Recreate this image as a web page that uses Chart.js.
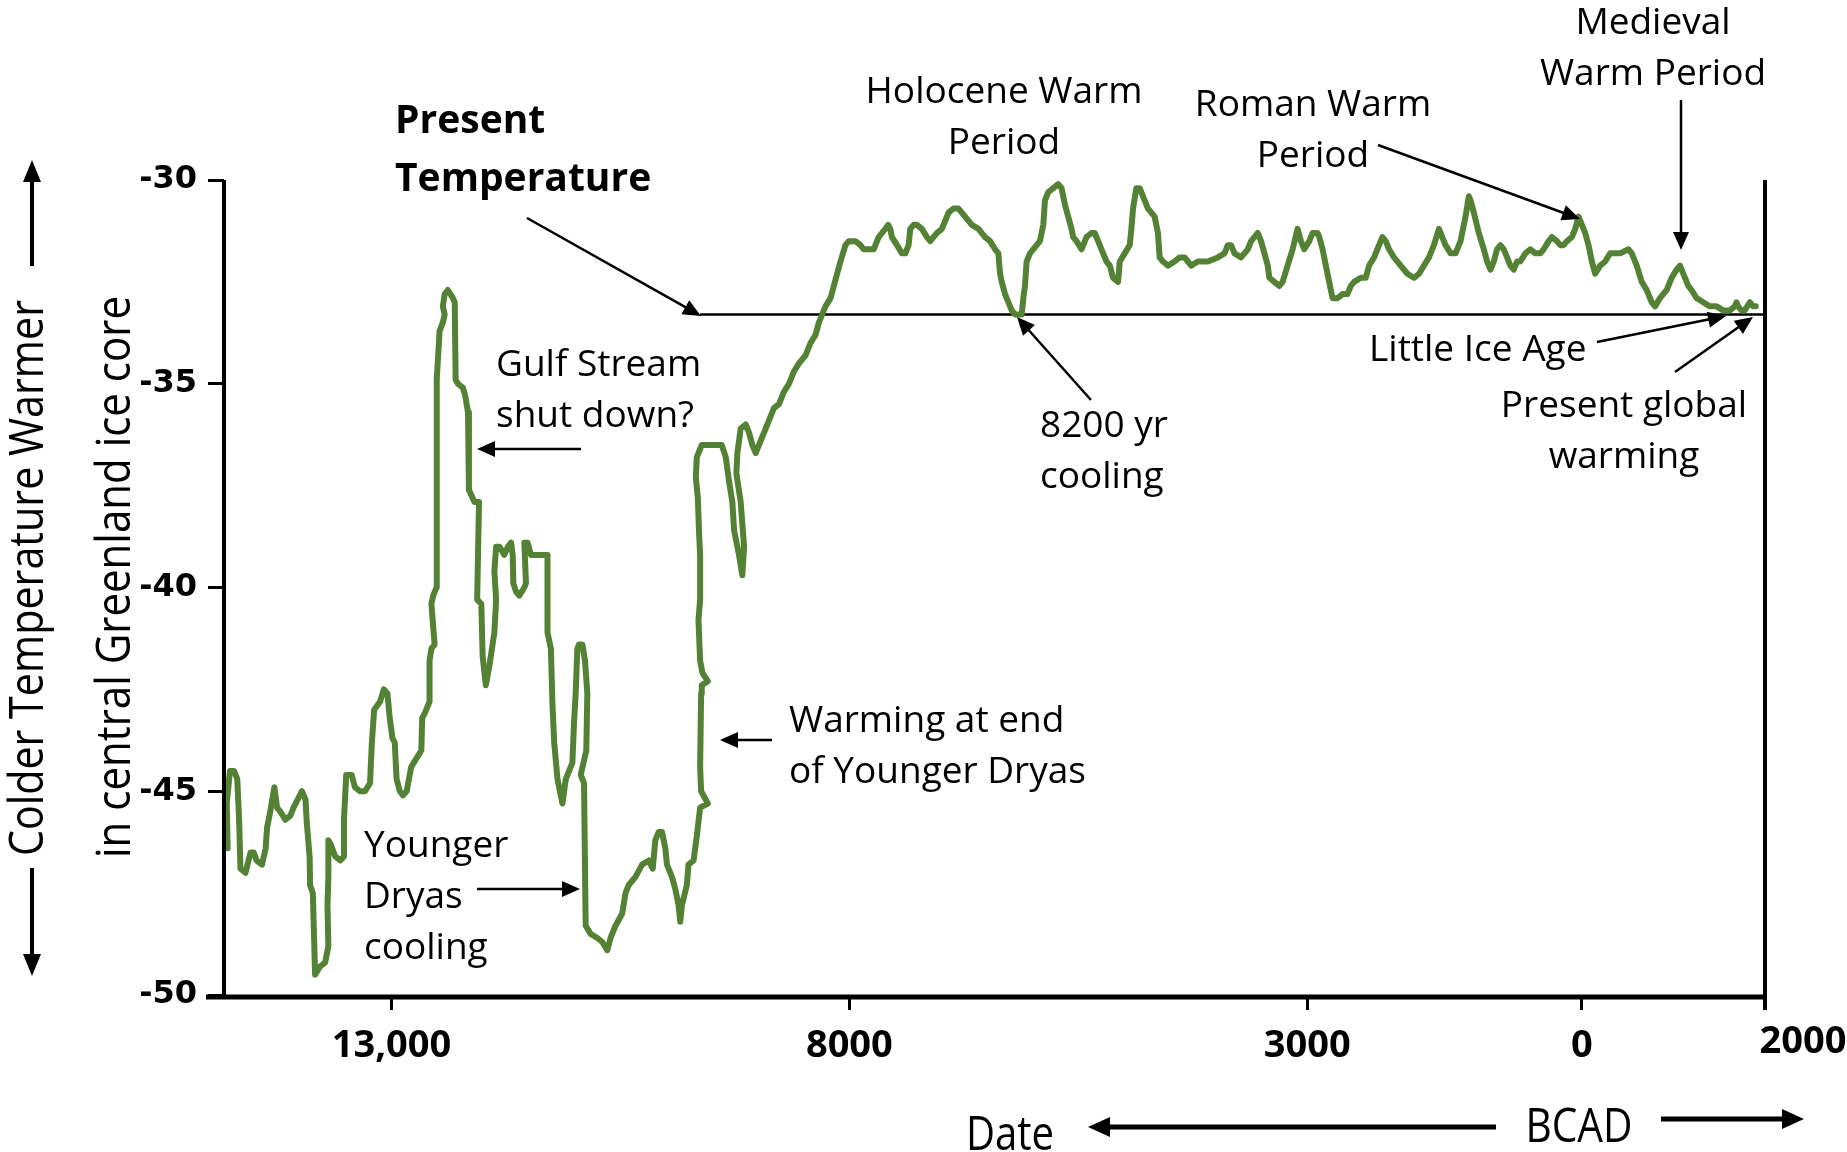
<!DOCTYPE html>
<html>
<head>
<meta charset="utf-8">
<script src="https://cdn.jsdelivr.net/npm/chart.js@4"></script>
<style>
  html, body { margin: 0; padding: 0; background: #fff; }
</style>
</head>
<body>
<canvas id="iceChart" width="1847" height="1152"></canvas>
<script>
// Year (negative = BC) and temperature
const years = [
  -14790, -14800, -14765, -14720, -14685, -14665, -14650, -14595, -14540, -14505,
  -14475, -14415, -14375, -14360, -14325, -14280, -14250, -14215, -14160, -14105,
  -14070, -13980, -13940, -13925, -13895, -13890, -13860, -13835, -13780, -13725,
  -13690, -13700, -13690, -13690, -13665, -13615, -13560, -13520, -13520, -13495,
  -13435, -13400, -13345, -13290, -13235, -13215, -13190, -13125, -13085, -13045,
  -13020, -12990, -12965, -12945, -12910, -12875, -12835, -12785, -12730, -12675,
  -12665, -12640, -12585, -12585, -12565, -12530, -12565, -12545, -12510, -12505,
  -12510, -12505, -12475, -12440, -12420, -12440, -12420, -12385, -12330, -12310,
  -12300, -12275, -12220, -12195, -12165, -12155, -12095, -12045, -12065, -12020,
  -12005, -11970, -11930, -11877, -11858, -11877, -11858,
  -11820, -11770, -11730, -11695, -11677, -11670, -11641, -11605, -11550, -11532,
  -11550, -11514, -11478, -11442, -11351, -11297, -11297, -11260, -11242, -11224,
  -11188, -11134, -11097, -11025, -11007, -10989, -10971, -10952, -10916, -10887,
  -10862, -10873, -10934, -10898, -10880, -10826, -10753, -10699, -10644, -10608,
  -10554, -10481, -10445, -10409, -10336, -10264, -10191, -10148, -10119, -10083,
  -10046, -10010, -9992, -9938, -9901, -9865, -9847, -9829, -9775, -9757,
  -9702, -9666, -9630, -9546, -9619, -9630, -9619, -9612, -9546, -9604,
  -9630, -9648, -9630, -9630, -9641, -9655, -9677, -9666, -9612, -9503,
  -9394, -9350,
  -9314, -9278, -9259, -9205, -9169, -9150, -9187, -9234, -9223, -9187,
  -9132, -9096, -9060, -9023, -8987, -8932, -8878, -8824, -8769, -8715,
  -8660, -8606, -8551, -8478, -8424, -8370, -8333, -8297, -8261, -8206,
  -8170, -8134, -8097, -8043, -8007, -7934, -7879, -7843, -7789, -7734,
  -7716, -7680, -7607, -7578, -7553, -7535, -7480, -7426, -7389, -7353,
  -7335, -7298, -7262, -7208, -7153, -7117, -7081, -7044, -6990, -6953,
  -6917, -6863, -6808,
  -6736, -6663, -6590, -6518, -6463, -6409, -6373, -6354, -6336, -6300,
  -6264, -6227, -6191, -6118, -6100, -6082, -6064, -6028, -5955, -5919,
  -5882, -5864, -5828, -5773, -5719, -5683, -5646, -5610, -5574, -5556,
  -5519, -5465, -5410, -5356, -5320, -5283, -5229, -5192, -5156, -5120,
  -5065, -5047, -4993, -4938, -4920, -4902, -4866, -4829, -4793, -4739,
  -4702, -4666, -4630, -4611, -4575, -4521, -4448, -4394, -4339, -4303,
  -4267, -4194, -4085, -3976, -3903, -3867, -3831, -3794, -3722, -3685,
  -3649, -3613, -3576, -3540, -3504, -3467, -3431, -3413, -3359, -3304,
  -3268, -3214, -3159, -3105,
  -3068, -3032, -2977, -2941, -2887, -2868, -2832, -2796, -2760, -2723,
  -2669, -2614, -2560, -2524, -2487, -2415, -2360, -2324, -2269, -2215,
  -2179, -2142, -2106, -2052, -1979, -1906, -1834, -1779, -1725, -1670,
  -1616, -1561, -1525, -1489, -1434, -1380, -1325, -1271, -1234, -1216,
  -1180, -1126, -1071, -1035, -998, -962, -926, -889, -853, -817,
  -781, -744, -708, -672, -617, -563, -508, -454, -417, -363,
  -327, -272, -236, -200, -163, -109, -73, -36, 0, 36,
  73, 109, 145, 200, 254, 309, 381,
  418, 508, 545, 599, 654, 708, 763, 799, 853, 926,
  980, 1035, 1071, 1107, 1162, 1198, 1253, 1325, 1398, 1471,
  1543, 1616, 1670, 1688, 1707, 1743, 1779, 1834, 1870, 1899
];
const temps = [
  -46.4, -45.3, -44.5, -44.5, -44.7, -45.7, -46.9, -47.0, -46.5, -46.5,
  -46.7, -46.8, -46.4, -45.9, -45.5, -44.9, -45.4, -45.5, -45.7, -45.6,
  -45.4, -45.0, -45.2, -45.8, -46.6, -47.3, -47.5, -49.5, -49.3, -49.2,
  -48.8, -47.8, -47.1, -46.2, -46.3, -46.6, -46.7, -46.6, -45.7, -44.6,
  -44.6, -44.9, -45.0, -45.0, -44.8, -43.8, -43.0, -42.8, -42.5, -42.6,
  -43.2, -43.7, -43.8, -44.7, -45.0, -45.1, -45.0, -44.4, -44.2, -44.0,
  -43.2, -43.1, -42.8, -41.8, -41.5, -41.4, -40.4, -40.2, -40.0, -39.0,
  -37.4, -34.9, -33.7, -33.5, -33.3, -33.1, -32.8, -32.7, -32.9, -33.0,
  -34.9, -35.0, -35.1, -35.3, -35.7, -37.6, -37.9, -37.9, -40.3, -40.4,
  -41.7, -42.4, -41.9, -41.1, -40.3, -39.6, -39.0,
  -39.0, -39.2, -39.0, -38.9, -39.2, -39.9, -40.1, -40.2, -40.0, -39.9,
  -38.9, -38.9, -39.2, -39.2, -39.2, -39.2, -41.1, -41.5, -42.9, -43.8,
  -44.7, -45.3, -44.7, -44.3, -43.3, -42.6, -41.5, -41.4, -41.4, -41.8,
  -42.6, -44.0, -44.6, -44.8, -48.3, -48.5, -48.6, -48.7, -48.9, -48.6,
  -48.3, -48.0, -47.5, -47.3, -47.1, -46.8, -46.7, -46.9, -46.2, -46.0,
  -46.0, -46.4, -46.8, -47.1, -47.4, -47.8, -48.2, -47.8, -47.3, -46.8,
  -46.7, -46.1, -45.4, -45.3, -45.0, -44.4, -42.6, -42.4, -42.3, -42.1,
  -41.8, -40.8, -40.3, -39.2, -38.7, -37.8, -37.3, -36.8, -36.5, -36.5,
  -36.5, -36.8,
  -37.4, -37.9, -38.6, -39.2, -39.7, -39.0, -37.9, -37.2, -36.7, -36.1,
  -36.0, -36.2, -36.5, -36.7, -36.5, -36.2, -35.9, -35.6, -35.5, -35.2,
  -35.0, -34.7, -34.5, -34.3, -34.0, -33.8, -33.5, -33.3, -33.1, -32.9,
  -32.6, -32.3, -32.0, -31.6, -31.5, -31.5, -31.6, -31.7, -31.7, -31.7,
  -31.6, -31.4, -31.2, -31.1, -31.2, -31.4, -31.6, -31.8, -31.8, -31.6,
  -31.2, -31.1, -31.1, -31.2, -31.4, -31.5, -31.4, -31.3, -31.2, -31.0,
  -30.8, -30.7, -30.7,
  -30.9, -31.1, -31.2, -31.4, -31.5, -31.7, -31.8, -32.3, -32.5, -32.8,
  -33.0, -33.2, -33.3, -33.3, -32.9, -32.6, -32.0, -31.8, -31.6, -31.5,
  -31.1, -30.5, -30.3, -30.2, -30.1, -30.2, -30.6, -30.9, -31.2, -31.4,
  -31.5, -31.7, -31.4, -31.3, -31.3, -31.5, -31.8, -32.0, -32.1, -32.4,
  -32.5, -32.0, -31.8, -31.6, -31.2, -30.7, -30.2, -30.2, -30.4, -30.7,
  -30.8, -30.9, -31.3, -31.9, -32.0, -32.1, -32.0, -31.9, -31.9, -32.0,
  -32.1, -32.0, -32.0, -31.9, -31.8, -31.6, -31.6, -31.8, -31.9, -31.8,
  -31.7, -31.5, -31.4, -31.3, -31.5, -31.8, -32.1, -32.4, -32.5, -32.6,
  -32.5, -32.1, -31.7, -31.2,
  -31.5, -31.7, -31.5, -31.3, -31.3, -31.4, -31.7, -32.1, -32.5, -32.9,
  -32.9, -32.8, -32.8, -32.6, -32.5, -32.4, -32.4, -32.1, -31.9, -31.6,
  -31.4, -31.5, -31.7, -31.9, -32.1, -32.3, -32.4, -32.3, -32.1, -31.9,
  -31.6, -31.2, -31.4, -31.6, -31.8, -31.8, -31.5, -30.9, -30.4, -30.5,
  -30.8, -31.3, -31.7, -32.0, -32.2, -32.0, -31.7, -31.6, -31.7, -31.9,
  -32.1, -32.2, -32.0, -32.0, -31.8, -31.7, -31.8, -31.8, -31.7, -31.5,
  -31.4, -31.5, -31.6, -31.6, -31.5, -31.4, -31.2, -30.9, -31.1, -31.3,
  -31.6, -32.0, -32.3, -32.1, -32.0, -31.8, -31.8,
  -31.8, -31.7, -31.8, -32.1, -32.5, -32.7, -33.0, -33.1, -32.9, -32.7,
  -32.4, -32.2, -32.1, -32.3, -32.6, -32.7, -32.9, -33.0, -33.1, -33.1,
  -33.2, -33.2, -33.1, -33.0, -33.1, -33.2, -33.2, -33.0, -33.1, -33.1
];

// "Present Temperature" reference level
const presentYears = [-9630, 2000];
const presentTemps = [-33.3, -33.3];

// axes
const xTickValues = [-13000, -8000, -3000, 0, 2000];
const xTickLabels = ["13,000", "8000", "3000", "0", "2000"];
const yTickValues = [-50, -45, -40, -35, -30];

const textFont = '"Open Sans", "DejaVu Sans", sans-serif';

function arrow(ctx, x1, y1, x2, y2, lw, head, halfW) {
  const a = Math.atan2(y2 - y1, x2 - x1);
  const c = Math.cos(a), s = Math.sin(a);
  ctx.lineWidth = lw;
  ctx.beginPath();
  ctx.moveTo(x1, y1);
  ctx.lineTo(x2 - c * head * 0.8, y2 - s * head * 0.8);
  ctx.stroke();
  ctx.beginPath();
  ctx.moveTo(x2, y2);
  ctx.lineTo(x2 - c * head - s * halfW, y2 - s * head + c * halfW);
  ctx.lineTo(x2 - c * head + s * halfW, y2 - s * head - c * halfW);
  ctx.closePath();
  ctx.fill();
}

// narrow looking text: squeeze to a given width
function fitText(ctx, text, cx, cy, size, width, angle) {
  ctx.save();
  ctx.font = size + "px " + textFont;
  const w = ctx.measureText(text).width;
  ctx.translate(cx, cy);
  ctx.rotate(angle);
  ctx.scale(width / w, 1);
  ctx.textAlign = "center";
  ctx.textBaseline = "middle";
  ctx.fillText(text, 0, 0);
  ctx.restore();
}

function label(ctx, lines, x, y, align, bold) {
  ctx.font = (bold ? "bold 39px " : "37px ") + textFont;
  ctx.textAlign = align;
  ctx.textBaseline = "middle";
  const step = bold ? 58 : 51;
  lines.forEach((t, i) => ctx.fillText(t, x, y + i * step));
}

const decorations = {
  id: "decorations",
  afterDraw(chart) {
    const ctx = chart.ctx;
    const xs = chart.scales.x, ys = chart.scales.y;
    const area = chart.chartArea;
    const x0 = xs.getPixelForValue(xs.min);
    const x1 = xs.getPixelForValue(2000);
    const yb = ys.getPixelForValue(-50);
    ctx.save();
    ctx.strokeStyle = "#000";
    ctx.fillStyle = "#000";
    ctx.lineCap = "butt";

    // axis frame
    ctx.lineWidth = 4;
    ctx.beginPath();
    ctx.moveTo(x0, area.top);
    ctx.lineTo(x0, yb + 3);
    ctx.stroke();
    ctx.beginPath();
    ctx.moveTo(x1, area.top);
    ctx.lineTo(x1, yb + 15);
    ctx.stroke();
    ctx.lineWidth = 5;
    ctx.beginPath();
    ctx.moveTo(x0 - 18, yb + 2);
    ctx.lineTo(x1 + 2, yb + 2);
    ctx.stroke();

    // last x label sits right of the frame line
    ctx.font = "bold 38px " + textFont;
    ctx.textAlign = "center";
    ctx.textBaseline = "middle";
    ctx.fillText(xTickLabels[xTickLabels.length - 1], x1 + 38, 1042);

    // axis titles
    fitText(ctx, "Colder Temperature Warmer", 29, 578, 48, 556, -Math.PI / 2);
    fitText(ctx, "in central Greenland ice core", 116, 577, 48, 562, -Math.PI / 2);
    arrow(ctx, 32, 266, 32, 160, 4, 22, 9);
    arrow(ctx, 32, 868, 32, 976, 4, 22, 9);
    fitText(ctx, "Date", 1010, 1136, 48, 88, 0);
    fitText(ctx, "BCAD", 1579, 1128, 48, 107, 0);
    arrow(ctx, 1496, 1127, 1088, 1127, 5, 22, 10);
    arrow(ctx, 1661, 1119, 1804, 1119, 5, 22, 10);

    // annotations
    label(ctx, ["Present", "Temperature"], 395, 122, "left", true);
    arrow(ctx, 527, 218, 701, 316, 2.5, 18, 8);
    label(ctx, ["Holocene Warm", "Period"], 1004, 92, "center");
    label(ctx, ["Roman Warm", "Period"], 1313, 105, "center");
    arrow(ctx, 1378, 145, 1580, 219, 2.5, 18, 8);
    label(ctx, ["Medieval", "Warm Period"], 1653, 23, "center");
    arrow(ctx, 1681, 100, 1681, 250, 2.5, 18, 8);
    label(ctx, ["Gulf Stream", "shut down?"], 496, 365, "left");
    arrow(ctx, 581, 449, 477, 449, 2.5, 18, 8);
    label(ctx, ["8200 yr", "cooling"], 1040, 426, "left");
    arrow(ctx, 1091, 400, 1017, 317, 2.5, 18, 8);
    label(ctx, ["Little Ice Age"], 1369, 350, "left");
    arrow(ctx, 1597, 342, 1726, 316, 2.5, 18, 8);
    label(ctx, ["Present global", "warming"], 1624, 406, "center");
    arrow(ctx, 1675, 372, 1753, 317, 2.5, 18, 8);
    label(ctx, ["Warming at end", "of Younger Dryas"], 789, 721, "left");
    arrow(ctx, 772, 740, 720, 740, 2.5, 18, 8);
    label(ctx, ["Younger", "Dryas", "cooling"], 364, 846, "left");
    arrow(ctx, 477, 889, 580, 889, 2.5, 18, 8);
    ctx.restore();
  }
};

const config = {
  type: "line",
  data: {
    datasets: [
      {
        label: "Temperature",
        data: years.map((x, i) => ({ x: x, y: temps[i] })),
        borderColor: "#548235",
        borderWidth: 6,
        pointRadius: 0,
        tension: 0,
        fill: false,
        borderJoinStyle: "round",
        borderCapStyle: "round",
        clip: 8
      },
      {
        label: "Present Temperature",
        data: presentYears.map((x, i) => ({ x: x, y: presentTemps[i] })),
        borderColor: "#000",
        borderWidth: 2.5,
        pointRadius: 0,
        fill: false
      }
    ]
  },
  options: {
    responsive: false,
    animation: false,
    devicePixelRatio: 1,
    layout: { padding: { top: 180, right: 82, left: 0, bottom: 0 } },
    plugins: { legend: { display: false }, tooltip: { enabled: false } },
    scales: {
      x: {
        type: "linear",
        min: -14830,
        max: 2000,
        afterBuildTicks: (s) => { s.ticks = xTickValues.map((v) => ({ value: v })); },
        afterFit: (s) => { s.height = 157; },
        ticks: {
          autoSkip: false,
          maxRotation: 0,
          padding: 13,
          color: "#000",
          font: { family: textFont, weight: "bold", size: 38 },
          callback: (v) => (v === 2000 ? "" : xTickLabels[xTickValues.indexOf(v)])
        },
        grid: { drawOnChartArea: false, drawTicks: true, tickLength: 15, tickWidth: 3, tickColor: "#000" },
        border: { display: false }
      },
      y: {
        min: -50,
        max: -30,
        afterBuildTicks: (s) => { s.ticks = yTickValues.map((v) => ({ value: v })); },
        afterFit: (s) => { s.width = 224; },
        ticks: {
          padding: 11,
          color: "#000",
          font: { family: '"DejaVu Sans", sans-serif', weight: "bold", size: 32 }
        },
        grid: { drawOnChartArea: false, drawTicks: true, tickLength: 16, tickWidth: 3, tickColor: "#000" },
        border: { display: false }
      }
    }
  },
  plugins: [decorations]
};

new Chart(document.getElementById("iceChart"), config);
</script>
</body>
</html>
